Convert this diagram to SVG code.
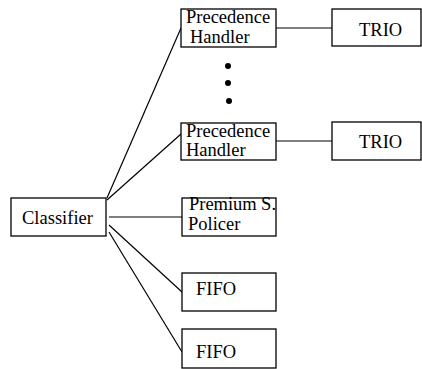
<svg xmlns="http://www.w3.org/2000/svg" width="422" height="369" viewBox="0 0 422 369">
<style>
rect{fill:#fff;stroke:#000;stroke-width:1.3}
line{stroke:#000;stroke-width:1.2}
text{font-family:"Liberation Serif","Times New Roman",serif;font-size:18.5px;fill:#000}
</style>
<g id="connectors">
<line x1="107" y1="198" x2="181" y2="28"/>
<line x1="107" y1="200" x2="181" y2="134"/>
<line x1="109" y1="217" x2="182" y2="217"/>
<line x1="109" y1="225" x2="182" y2="292"/>
<line x1="109" y1="232" x2="182" y2="352"/>
<line x1="276" y1="28" x2="332" y2="28"/>
<line x1="276" y1="141" x2="332" y2="141"/>
</g>
<g id="classifier"><rect x="11" y="198" width="95" height="38"/><text x="22" y="224">Classifier</text></g>
<g id="ph1"><rect x="181" y="9" width="95" height="38"/><text x="186" y="23">Precedence</text><text x="190" y="42.5">Handler</text></g>
<g id="trio1"><rect x="332" y="9" width="89" height="37"/><text x="359" y="36">TRIO</text></g>
<g id="dots"><circle cx="228" cy="66" r="3"/><circle cx="228" cy="83" r="3"/><circle cx="229" cy="101" r="3"/></g>
<g id="ph2"><rect x="181" y="123" width="95" height="37"/><text x="186" y="137">Precedence</text><text x="186" y="156">Handler</text></g>
<g id="trio2"><rect x="332" y="122" width="89" height="38"/><text x="359" y="148">TRIO</text></g>
<g id="premium"><rect x="182" y="198" width="94" height="38"/><text x="189" y="210" textLength="87">Premium S.</text><text x="188" y="230">Policer</text></g>
<g id="fifo1"><rect x="182" y="273" width="94" height="38"/><text x="196" y="295">FIFO</text></g>
<g id="fifo2"><rect x="182" y="329" width="94" height="39"/><text x="196" y="358">FIFO</text></g>
</svg>
